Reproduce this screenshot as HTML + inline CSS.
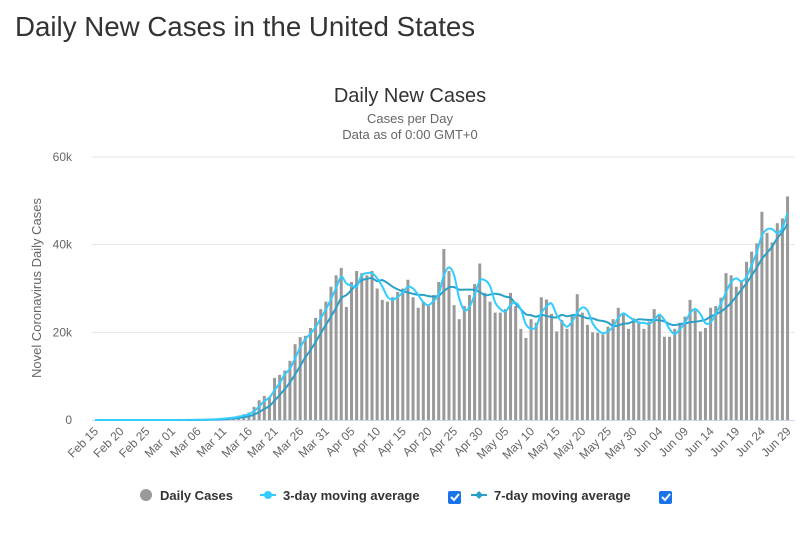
<!DOCTYPE html>
<html><head><meta charset="utf-8"><style>
body{margin:0;background:#fff;font-family:"Liberation Sans",sans-serif}
svg text{font-family:"Liberation Sans",sans-serif}
</style></head><body>
<svg id="c" width="806" height="532">
<text x="15" y="36" font-size="27.7" fill="#333">Daily New Cases in the United States</text>
<text x="410" y="102" font-size="20" fill="#333" text-anchor="middle">Daily New Cases</text>
<text x="410" y="123" font-size="13" fill="#666" text-anchor="middle">Cases per Day</text>
<text x="410" y="139" font-size="13" fill="#666" text-anchor="middle">Data as of 0:00 GMT+0</text>
<text transform="translate(41,288) rotate(-90)" font-size="13" fill="#666" text-anchor="middle">Novel Coronavirus Daily Cases</text>
<g id="grid"></g><g id="bars"></g><g id="lines"></g><g id="xl"></g>
<g>
<circle cx="146" cy="495" r="6" fill="#999"/>
<text x="160" y="500" font-size="13" font-weight="bold" fill="#333">Daily Cases</text>
<line x1="260" y1="495" x2="276" y2="495" stroke="#33ccff" stroke-width="2"/><circle cx="268" cy="495" r="4" fill="#33ccff"/>
<text x="283" y="500" font-size="13" font-weight="bold" fill="#333">3-day moving average</text>
<rect x="448" y="491" width="13" height="13" rx="2" fill="#1a73e8"/>
<path d="M451 497 l3 3 l5 -6" stroke="#fff" stroke-width="2" fill="none"/>
<line x1="471" y1="495" x2="487" y2="495" stroke="#2aa0c8" stroke-width="2"/><path d="M479 491 l4 4 l-4 4 l-4 -4z" fill="#2aa0c8"/>
<text x="494" y="500" font-size="13" font-weight="bold" fill="#333">7-day moving average</text>
<rect x="659" y="491" width="13" height="13" rx="2" fill="#1a73e8"/>
<path d="M662 497 l3 3 l5 -6" stroke="#fff" stroke-width="2" fill="none"/>
</g>
</svg>
<script>
const yTicks=[0,20000,40000,60000];
const yTickLabels=["0","20k","40k","60k"];
const early=[0,0,0,0,0,0,0,0,0,0,0,0,0,0,5,10,10,15,20,30,50,80,120,200,300,400,500,700,1000,1300,1700];
const mid=[3,4.5,5.5,5.3,9.6,10.3,11.3,13.5,17.3,18.9,19.2,21,23.3,25.3,27,30.4,33,34.7,25.8,31.5,34,33.5,33,34,30,27.4,27,28,29.2,30,32,28,25.6,27,26,28.5,31.5,39,34,26.2,23,26,28.5,31,35.7,29,27,24.5,24.5,25.3];
const late=[29,26,20.8,18.7,23,22.2,28,27.5,24.2,20.2,22.8,20.8,23.8,28.7,24.5,21.7,20,19.9,19.5,21.3,23,25.6,24.4,20.8,23.2,22.5,20.8,22.5,25.3,24.2,19,19,20.8,22.2,23.6,27.4,25,20.2,21,25.6,26,27.9,33.5,33,30.4,31.5,36.1,38.4,40.3,47.5,42.7,40.5,44.9,46,51];
const daily=early.concat(mid.map(v=>v*1000),late.map(v=>v*1000));
const months=["Feb","Mar","Apr","May","Jun"],mStart=[0,15,46,76,107];
const NS="http://www.w3.org/2000/svg";
const X0=95,DX=5.13,Y0=420,YS=263/60000;
const xs=i=>X0+DX*i, ys=v=>Y0-v*YS;
function mk(t,a,p){const e=document.createElementNS(NS,t);for(const k in a)e.setAttribute(k,a[k]);document.getElementById(p).appendChild(e);return e;}
yTicks.forEach((t,i)=>{
 if(i>0){const g=mk('line',{x1:92,x2:795,y1:ys(t),y2:ys(t),stroke:'#e6e6e6'},'grid');
 
 }
 const l=mk('text',{x:72,y:ys(t)+4,'font-size':12,fill:'#666','text-anchor':'end'},'grid');l.textContent=yTickLabels[i];
 
 
});
const ax=mk('line',{x1:92,x2:795,y1:Y0+0.5,y2:Y0+0.5,stroke:'#ccd6eb',"stroke-width":1},'grid');


daily.forEach((v,i)=>{const b=mk('rect',{x:xs(i)-1.5,y:ys(v),width:3,height:v*YS,fill:'#999'},'bars');
 
 });
function ma(n){return daily.map((v,i)=>{let s=0,c=0;for(let j=Math.max(0,i-n+1);j<=i;j++){s+=daily[j];c++;}return s/c;});}
function smooth(p){let d=`M${p[0][0]},${p[0][1]}`;for(let i=0;i<p.length-1;i++){const a=p[Math.max(0,i-1)],b=p[i],c=p[i+1],e=p[Math.min(p.length-1,i+2)];d+=` C${b[0]+(c[0]-a[0])/6},${b[1]+(c[1]-a[1])/6} ${c[0]-(e[0]-b[0])/6},${c[1]-(e[1]-b[1])/6} ${c[0]},${c[1]}`;}return d;}
const m7=ma(7),m3=ma(3);
const l7=mk('path',{d:smooth(m7.map((v,i)=>[xs(i),ys(v)])),stroke:'#2aa0c8','stroke-width':2,fill:'none'},'lines');


const l3=mk('path',{d:smooth(m3.map((v,i)=>[xs(i),ys(v)])),stroke:'#33ccff','stroke-width':2,fill:'none'},'lines');


for(let i=0;i<daily.length;i+=5){let m=0;for(let k=0;k<5;k++)if(i>=mStart[k])m=k;const d=i-mStart[m]+(m==0?15:1);
 const t=mk('text',{transform:`translate(${xs(i)+4},${Y0+12}) rotate(-45)`,'font-size':12,fill:'#666','text-anchor':'end'},'xl');
 t.textContent=months[m]+' '+String(d).padStart(2,'0');
 
 }
</script>
</body></html>
